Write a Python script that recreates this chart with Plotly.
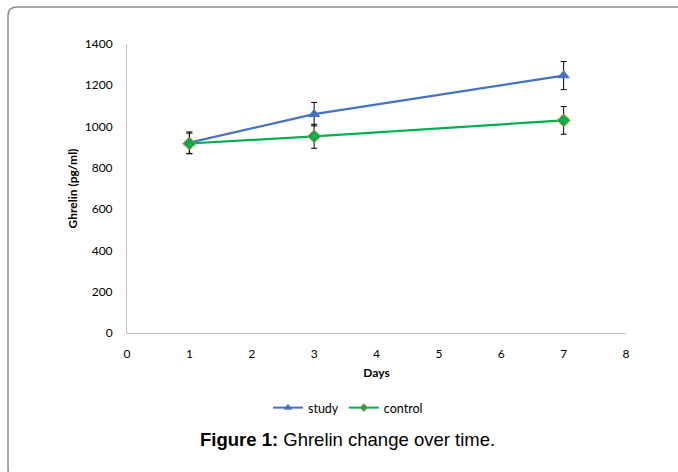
import plotly.graph_objects as go

days = [1, 3, 7]
study = [922, 1060, 1247]
study_err = [52, 57, 68]
control = [918, 953, 1030]
control_err = [50, 58, 67]

W, H = 678, 472
L, R, T, B = 127, 52, 44, 139
pw, ph = W - L - R, H - T - B

def px(x):
    return (x - L) / pw

def py(y):
    return (H - B - y) / ph

fig = go.Figure()
fig.add_trace(go.Scatter(
    x=days, y=study, name="study", mode="lines+markers", showlegend=False,
    line=dict(color="#4472C4", width=2.25),
    marker=dict(symbol="triangle-up", size=11, color="#4472C4"),
    error_y=dict(type="data", array=study_err, color="black", thickness=1, width=3),
))
fig.add_trace(go.Scatter(
    x=days, y=control, name="control", mode="lines+markers", showlegend=False,
    line=dict(color="#00B050", width=2.25),
    marker=dict(symbol="diamond", size=10, color="#00B050",
                line=dict(color="#ED7D31", width=1)),
    error_y=dict(type="data", array=control_err, color="black", thickness=1, width=3),
))
# legend entries with smaller symbols
fig.add_trace(go.Scatter(
    x=[None], y=[None], name="study", mode="lines+markers",
    line=dict(color="#4472C4", width=2),
    marker=dict(symbol="triangle-up", size=8, color="#4472C4"),
))
fig.add_trace(go.Scatter(
    x=[None], y=[None], name="control", mode="lines+markers",
    line=dict(color="#00B050", width=2),
    marker=dict(symbol="diamond", size=6, color="#00B050",
                line=dict(color="#ED7D31", width=1)),
))

tick_font = dict(family="Lato, sans-serif", size=12, color="#000000")
fig.update_xaxes(range=[0, 8], dtick=1, showgrid=False, zeroline=False,
                 showline=True, linecolor="#BFBFBF", linewidth=1,
                 ticks="outside", ticklen=10, tickcolor="rgba(0,0,0,0)", tickfont=tick_font,
                 title=dict(text="<b>Days</b>", font=dict(family="Lato, sans-serif", size=12, color="#000"), standoff=8))
fig.update_yaxes(range=[0, 1400], dtick=200, showgrid=False, zeroline=False,
                 showline=True, linecolor="#BFBFBF", linewidth=1,
                 ticks="outside", ticklen=11, tickcolor="rgba(0,0,0,0)", tickfont=tick_font,
                 title=dict(text="<b>Ghrelin (pg/ml)</b>", font=dict(family="Lato, sans-serif", size=12, color="#000"), standoff=4))

# rounded border
x0, x1 = px(8), px(700)
yT, yB = py(7), py(478)
dx, dy = 9 / pw, 9 / ph
path = (f"M {x1},{yT} L {x0+dx},{yT} Q {x0},{yT} {x0},{yT-dy} "
        f"L {x0},{yB+dy} Q {x0},{yB} {x0+dx},{yB} L {x1},{yB}")
fig.add_shape(type="path", path=path, xref="paper", yref="paper",
              line=dict(color="#8C8C8C", width=1.5))

fig.add_annotation(x=px(347), y=py(439), xref="paper", yref="paper",
                   text="<b>Figure 1:</b> Ghrelin change over time.",
                   showarrow=False, xanchor="center", yanchor="middle",
                   font=dict(family="Liberation Sans, Arial, sans-serif", size=18.5, color="#000"))

fig.update_layout(
    width=W, height=H, margin=dict(l=L, r=R, t=T, b=B),
    plot_bgcolor="white", paper_bgcolor="white",
    showlegend=True,
    legend=dict(orientation="h", x=px(348), y=py(408), xanchor="center", yanchor="middle",
                font=dict(family="Lato, sans-serif", size=12.5, color="#000"),
                itemwidth=30, bgcolor="rgba(0,0,0,0)"),
)

fig.write_html("out.html")
